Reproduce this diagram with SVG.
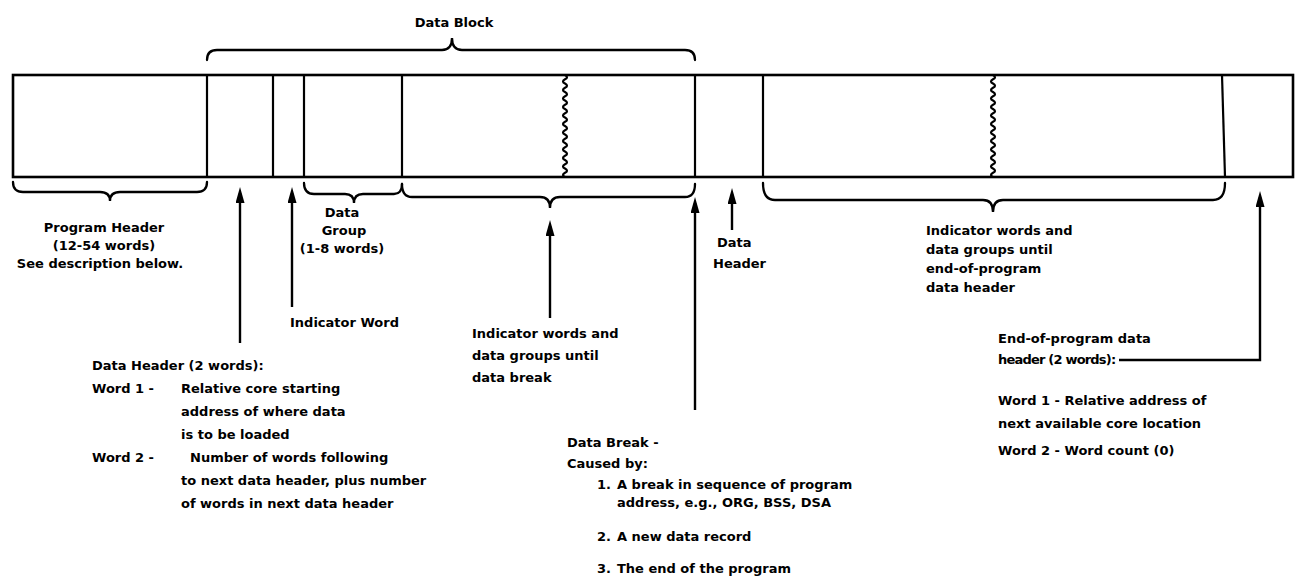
<svg xmlns="http://www.w3.org/2000/svg" width="1300" height="581" viewBox="0 0 1300 581">
<defs>
<marker id="ah" markerUnits="userSpaceOnUse" markerWidth="18" markerHeight="10" refX="10" refY="4.5" orient="auto">
<path d="M0,0 L16,4.5 L0,9 z" fill="#000"/>
</marker>
</defs>
<style>
text{font-family:"DejaVu Sans","Liberation Sans",sans-serif;font-weight:bold;font-size:13px;fill:#000}
.ln{stroke:#000;stroke-width:2.6;fill:none}
.dv{stroke:#000;stroke-width:2.2;fill:none}
.br{stroke:#000;stroke-width:2.3;fill:none;stroke-linecap:round}
.ar{stroke:#000;stroke-width:2.4;fill:none;marker-end:url(#ah)}
.m{text-anchor:middle}
</style>
<rect width="1300" height="581" fill="#fff"/>

<g id="record">
<rect class="ln" x="13" y="75" width="1280" height="102"/>
<line class="dv" x1="207" y1="75" x2="207" y2="177"/>
<line class="dv" x1="273" y1="75" x2="273" y2="177"/>
<line class="dv" x1="304" y1="75" x2="304" y2="177"/>
<line class="dv" x1="402" y1="75" x2="402" y2="177"/>
<line class="dv" x1="695" y1="75" x2="695" y2="177"/>
<line class="dv" x1="763" y1="75" x2="763" y2="177"/>
<line class="dv" x1="1222" y1="75" x2="1225" y2="177"/>
<path class="dv" d="M565,75 q4,2.125 0,4.25 q-4,2.125 0,4.25 q4,2.125 0,4.25 q-4,2.125 0,4.25 q4,2.125 0,4.25 q-4,2.125 0,4.25 q4,2.125 0,4.25 q-4,2.125 0,4.25 q4,2.125 0,4.25 q-4,2.125 0,4.25 q4,2.125 0,4.25 q-4,2.125 0,4.25 q4,2.125 0,4.25 q-4,2.125 0,4.25 q4,2.125 0,4.25 q-4,2.125 0,4.25 q4,2.125 0,4.25 q-4,2.125 0,4.25 q4,2.125 0,4.25 q-4,2.125 0,4.25 q4,2.125 0,4.25 q-4,2.125 0,4.25 q4,2.125 0,4.25 q-4,2.125 0,4.25"/>
<path class="dv" d="M993,75 q4,2.125 0,4.25 q-4,2.125 0,4.25 q4,2.125 0,4.25 q-4,2.125 0,4.25 q4,2.125 0,4.25 q-4,2.125 0,4.25 q4,2.125 0,4.25 q-4,2.125 0,4.25 q4,2.125 0,4.25 q-4,2.125 0,4.25 q4,2.125 0,4.25 q-4,2.125 0,4.25 q4,2.125 0,4.25 q-4,2.125 0,4.25 q4,2.125 0,4.25 q-4,2.125 0,4.25 q4,2.125 0,4.25 q-4,2.125 0,4.25 q4,2.125 0,4.25 q-4,2.125 0,4.25 q4,2.125 0,4.25 q-4,2.125 0,4.25 q4,2.125 0,4.25 q-4,2.125 0,4.25"/>
</g>

<g id="connectors">
<path class="br" d="M207,60 Q207,50 217,50 L442,50 Q452,50 452,38 Q452,50 462,50 L685,50 Q695,50 695,60"/>
<path class="br" d="M13,182 Q13,192 23,192 L100,192 Q110,192 110,201 Q110,192 120,192 L197,192 Q207,192 207,182"/>
<path class="br" d="M304,183 Q304,194 314,194 L345,194 Q354,194 354,203 Q354,194 363,194 L394,194 Q402,194 402,184"/>
<path class="br" d="M402,184 Q402,197 412,197 L540,197 Q550,197 550,208 Q550,197 560,197 L685,197 Q695,197 695,184"/>
<path class="br" d="M763,183 Q763,200 775,200 L983,200 Q993,200 993,212 Q993,200 1003,200 L1213,200 Q1225,200 1225,183"/>
<line class="ar" x1="240" y1="343" x2="240" y2="193"/>
<line class="ar" x1="292" y1="307" x2="292" y2="193"/>
<line class="ar" x1="550" y1="318" x2="550" y2="226"/>
<line class="ar" x1="695" y1="410" x2="695" y2="203"/>
<line class="ar" x1="732" y1="230" x2="732" y2="194"/>
<path class="ar" d="M1119,360 L1260,360 L1260,197"/>
</g>

<g id="data-block-label"><text class="m" x="454" y="27">Data Block</text></g>

<g id="program-header-label">
<text class="m" x="104" y="232">Program Header</text>
<text class="m" x="104" y="250">(12-54 words)</text>
<text class="m" x="100" y="268">See description below.</text>
</g>

<g id="data-group-label">
<text class="m" x="342" y="217">Data</text>
<text class="m" x="344" y="235">Group</text>
<text class="m" x="342" y="253">(1-8 words)</text>
</g>

<g id="indicator-word-label"><text x="290" y="327">Indicator Word</text></g>

<g id="data-header-label">
<text x="92" y="370">Data Header (2 words):</text>
<text x="92" y="393">Word 1 - </text>
<text x="181" y="393">Relative core starting</text>
<text x="181" y="416">address of where data</text>
<text x="181" y="439">is to be loaded</text>
<text x="92" y="462">Word 2 - </text>
<text x="190" y="462">Number of words following</text>
<text x="181" y="485">to next data header, plus number</text>
<text x="181" y="508">of words in next data header</text>
</g>

<g id="indicator-words-label">
<text x="472" y="338">Indicator words and</text>
<text x="472" y="360">data groups until</text>
<text x="472" y="382">data break</text>
</g>

<g id="data-break-label">
<text x="567" y="447">Data Break -</text>
<text x="567" y="468">Caused by:</text>
<text x="597" y="489">1.</text>
<text x="617" y="489">A break in sequence of program</text>
<text x="617" y="507">address, e.g., ORG, BSS, DSA</text>
<text x="597" y="541">2.</text>
<text x="617" y="541">A new data record</text>
<text x="597" y="573">3.</text>
<text x="617" y="573">The end of the program</text>
</g>

<g id="data-header-2-label">
<text x="717" y="247">Data</text>
<text x="713" y="268">Header</text>
</g>

<g id="indicator-words-2-label">
<text x="926" y="235">Indicator words and</text>
<text x="926" y="254">data groups until</text>
<text x="926" y="273">end-of-program</text>
<text x="926" y="292">data header</text>
</g>

<g id="end-header-label">
<text x="998" y="343">End-of-program data</text>
<text x="998" y="364" letter-spacing="-0.8">header (2 words):</text>
<text x="998" y="405">Word 1 - Relative address of</text>
<text x="998" y="428">next available core location</text>
<text x="998" y="455">Word 2 - Word count (0)</text>
</g>
</svg>
